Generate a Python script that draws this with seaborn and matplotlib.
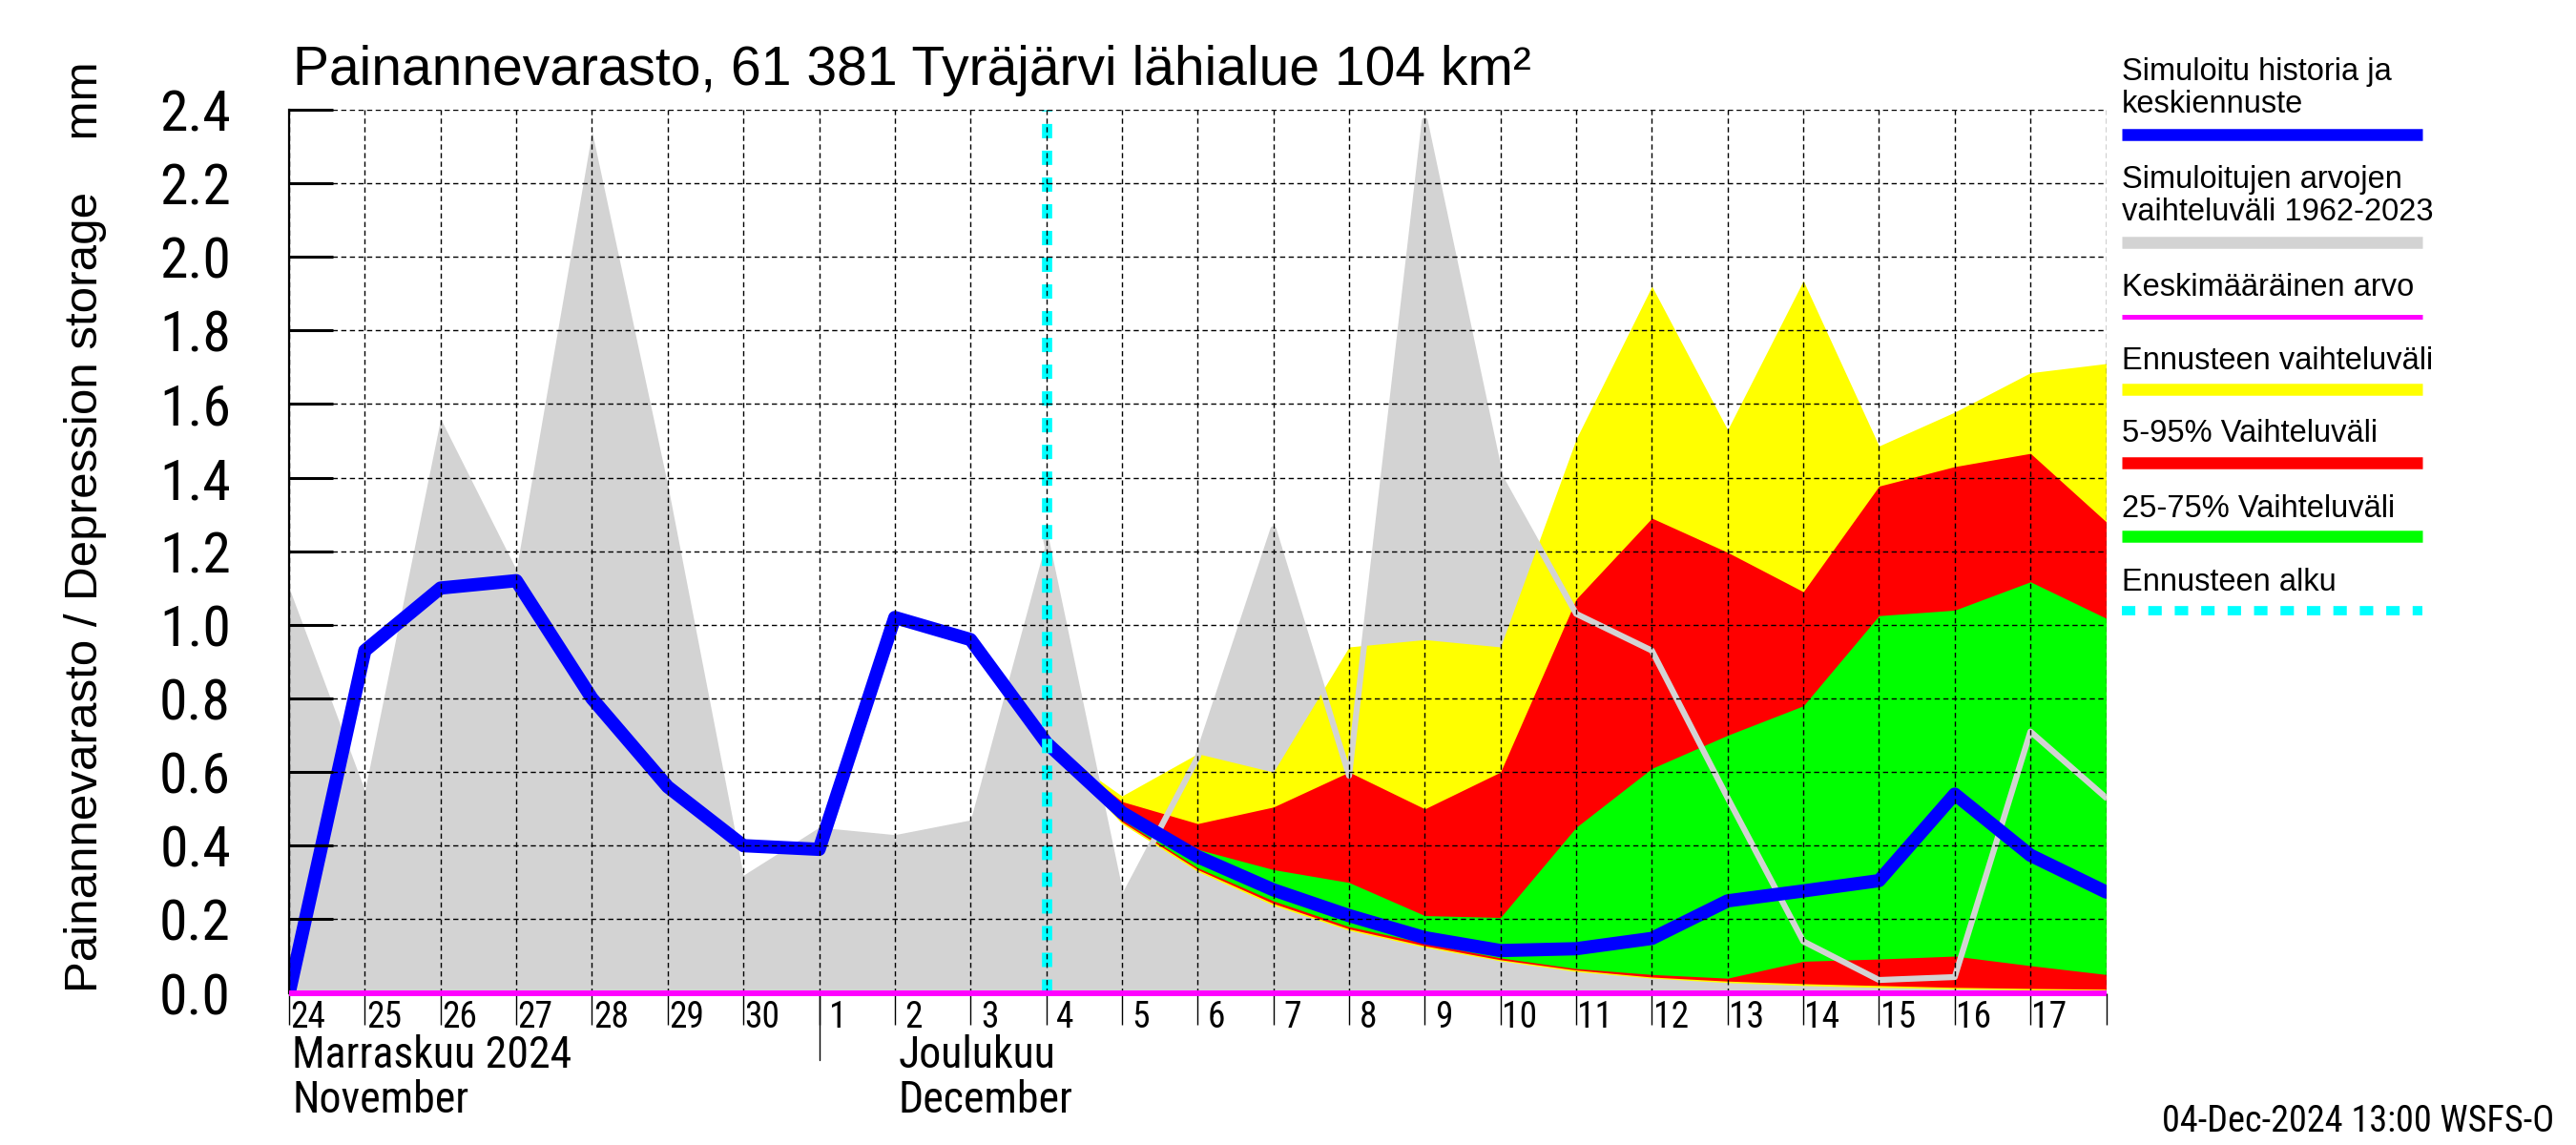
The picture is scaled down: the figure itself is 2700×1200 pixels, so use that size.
import numpy as np
import pandas as pd
import matplotlib
matplotlib.use("Agg")
import matplotlib.pyplot as plt
import matplotlib.transforms as mtrans
from matplotlib.lines import Line2D
from matplotlib import font_manager as fm
import seaborn as sns

# ---------------- data ----------------
dates = pd.date_range("2024-11-24", "2024-12-18", freq="D")
sim_max = [1.10, 0.55, 1.56, 1.15, 2.34, 1.38, 0.32, 0.45, 0.43, 0.47,
           1.23, 0.25, 0.64, 1.26, 0.59, 2.37, 1.40, 1.03, 0.93, 0.53,
           0.14, 0.035, 0.043, 0.71, 0.53]
sim_min = [0.0, 0.0, 0.0, 0.0, 0.0, 0.0, 0.0, 0.0, 0.0, 0.0,
           0.0, 0.0, 0.0, 0.0, 0.0, 0.0, 0.0, 0.0, 0.0, 0.0,
           0.0, 0.0, 0.0, 0.0, 0.0]
mean_line = [0.0, 0.93, 1.10, 1.12, 0.80, 0.56, 0.40, 0.39, 1.02, 0.96,
             0.68, 0.49, 0.37, 0.28, 0.21, 0.15, 0.115, 0.12, 0.148, 0.25,
             0.277, 0.305, 0.54, 0.374, 0.274]
mean_value = [0.0, 0.0, 0.0, 0.0, 0.0, 0.0, 0.0, 0.0, 0.0, 0.0,
              0.0, 0.0, 0.0, 0.0, 0.0, 0.0, 0.0, 0.0, 0.0, 0.0,
              0.0, 0.0, 0.0, 0.0, 0.0]

fc_dates = pd.date_range("2024-12-04", "2024-12-18", freq="D")
fc_max = [0.68, 0.535, 0.65, 0.60, 0.94, 0.96, 0.94, 1.505, 1.92, 1.53,
          1.935, 1.486, 1.578, 1.685, 1.71]
fc_p95 = [0.68, 0.52, 0.46, 0.505, 0.60, 0.50, 0.60, 1.07, 1.29, 1.197,
          1.09, 1.377, 1.43, 1.466, 1.28]
fc_p75 = [0.68, 0.50, 0.39, 0.335, 0.30, 0.21, 0.205, 0.45, 0.61, 0.70,
          0.78, 1.025, 1.04, 1.117, 1.018]
fc_p25 = [0.68, 0.47, 0.34, 0.25, 0.18, 0.135, 0.095, 0.066, 0.05, 0.04,
          0.086, 0.092, 0.10, 0.074, 0.05]
fc_p05 = [0.68, 0.465, 0.335, 0.243, 0.174, 0.128, 0.09, 0.062, 0.043, 0.032,
          0.025, 0.02, 0.015, 0.012, 0.01]
fc_min = [0.68, 0.46, 0.33, 0.238, 0.17, 0.124, 0.087, 0.058, 0.040, 0.028,
          0.02, 0.015, 0.011, 0.008, 0.005]
forecast_start = pd.Timestamp("2024-12-04")

y_ticks = [0.0, 0.2, 0.4, 0.6, 0.8, 1.0, 1.2, 1.4, 1.6, 1.8, 2.0, 2.2, 2.4]
day_labels = [str(d.day) for d in dates[:-1]]
month_names = ["Marraskuu 2024", "Joulukuu"]
month_names_en = ["November", "December"]
month_label_dates = [pd.Timestamp("2024-11-24"), pd.Timestamp("2024-12-02")]
month_boundary = pd.Timestamp("2024-12-01")

title = "Painannevarasto, 61 381 Tyräjärvi lähialue 104 km²"
ylabel = "Painannevarasto / Depression storage    mm"
footer = "04-Dec-2024 13:00 WSFS-O"

legend_texts = ["Simuloitu historia ja\nkeskiennuste",
                "Simuloitujen arvojen\nvaihteluväli 1962-2023",
                "Keskimääräinen arvo",
                "Ennusteen vaihteluväli",
                "5-95% Vaihteluväli",
                "25-75% Vaihteluväli",
                "Ennusteen alku"]

C_GREY = "#d3d3d3"
C_YEL = "#ffff00"
C_RED = "#ff0000"
C_GRN = "#00ff00"
C_BLUE = "#0000ff"
C_MAG = "#ff00ff"
C_CYAN = "#00ffff"

# ---------------- style ----------------
sns.set_theme(style="white")
names = sorted({f.name for f in fm.fontManager.ttflist})
REG = "Liberation Sans" if "Liberation Sans" in names else "DejaVu Sans"
NARROW = REG
for cand in ["Liberation Sans Narrow", "Roboto Condensed", "Open Sans Condensed",
             "DejaVu Sans Condensed", "Noto Sans Condensed"]:
    if cand in names:
        NARROW = cand
        break
else:
    for n in names:
        if "Narrow" in n or "Condensed" in n:
            NARROW = n
            break
plt.rcParams["font.family"] = [REG, "DejaVu Sans"]
for k in ["text.color", "axes.labelcolor", "xtick.color", "ytick.color"]:
    plt.rcParams[k] = "black"

fig = plt.figure(figsize=(27, 12), dpi=100)
fig.patch.set_facecolor("white")
L, R, T, B = 176 / 1568, 1282 / 1568, 1 - 67 / 700, 1 - 607 / 700
ax = fig.add_axes([L, B, R - L, T - B])
ax.set_facecolor("white")

df_hist = pd.DataFrame({"date": dates, "max": sim_max, "min": sim_min,
                        "mean": mean_line, "avg": mean_value})
df_fc = pd.DataFrame({"date": fc_dates, "mn": fc_min, "p05": fc_p05,
                      "p25": fc_p25, "p75": fc_p75, "p95": fc_p95, "mx": fc_max})

ax.fill_between(df_hist["date"], df_hist["min"], df_hist["max"],
                color=C_GREY, lw=0, zorder=1)
ax.fill_between(df_fc["date"], df_fc["mn"], df_fc["mx"], color=C_YEL, lw=0, zorder=1.1)
ax.fill_between(df_fc["date"], df_fc["p05"], df_fc["p95"], color=C_RED, lw=0, zorder=1.2)
ax.fill_between(df_fc["date"], df_fc["p25"], df_fc["p75"], color=C_GRN, lw=0, zorder=1.3)

df_gl = df_hist[df_hist["date"] >= forecast_start]
sns.lineplot(data=df_gl, x="date", y="max", ax=ax, color=C_GREY, lw=4.5,
             zorder=1.5, legend=False)
sns.lineplot(data=df_hist, x="date", y="mean", ax=ax, color=C_BLUE, lw=10,
             zorder=2.2, legend=False)
sns.lineplot(data=df_hist, x="date", y="avg", ax=ax, color=C_MAG, lw=4.3,
             zorder=3.5, legend=False)
mag = ax.lines[-1]
mag.set_clip_on(False)
mag.set_solid_capstyle("butt")
ax.axvline(forecast_start, color=C_CYAN, lw=7.7, ls=(0, (1.4, 1.22)),
           zorder=2.3, dash_capstyle="butt")

# ---------------- axes formatting ----------------
ax.set_xlim(dates[0], dates[-1])
ax.set_ylim(0, 2.4)
ax.set_xlabel("")
ax.set_ylabel("")
for s in ["top", "right", "bottom"]:
    ax.spines[s].set_visible(False)
ax.spines["left"].set_color("black")
ax.spines["left"].set_linewidth(1.6)

ax.set_yticks(y_ticks)
ax.set_yticklabels([f"{v:.1f}" for v in y_ticks], fontfamily=NARROW, fontsize=43)
ax.tick_params(axis="y", direction="in", length=33, width=2.2, color="black",
               pad=44, left=True)

label_pos = dates[:-1] + pd.Timedelta(hours=6)
ax.set_xticks(label_pos)
ax.set_xticklabels(day_labels, fontfamily=NARROW, fontsize=27)
ax.set_xticks(dates, minor=True)
ax.tick_params(axis="x", which="major", length=0, pad=5, bottom=True)
ax.tick_params(axis="x", which="minor", direction="out", length=24, width=1.0,
               color="black", bottom=True)

ax.grid(True, which="minor", axis="x", color="black", lw=1.0, ls=(0, (3.9, 2.6)))
ax.grid(True, which="major", axis="y", color="black", lw=1.0, ls=(0, (3.9, 2.6)))
ax.grid(False, which="major", axis="x")
ax.xaxis.set_zorder(2.5)
ax.yaxis.set_zorder(2.5)

ax.axvline(month_boundary, ymin=-0.076, ymax=0, color="black", lw=1.0,
           clip_on=False, zorder=3)

tr = mtrans.blended_transform_factory(ax.transData, fig.transFigure)
for name, name_en, d in zip(month_names, month_names_en, month_label_dates):
    ax.text(d + pd.Timedelta(hours=1), 1 - 653 / 700, name, transform=tr,
            fontfamily=NARROW, fontsize=33, ha="left", va="baseline")
    ax.text(d + pd.Timedelta(hours=1), 1 - 680 / 700, name_en, transform=tr,
            fontfamily=NARROW, fontsize=33, ha="left", va="baseline")

# ---------------- texts ----------------
fig.text(178 / 1568, 1 - 52 / 700, title, fontsize=41, ha="left", va="baseline")
fig.text(52 / 1568, 1 - 322 / 700, ylabel, fontsize=35.5, rotation=90,
         ha="center", va="center")
fig.text(1555 / 1568, 1 - 692 / 700, footer, fontfamily=NARROW, fontsize=27.5,
         ha="right", va="baseline")

# ---------------- legend (text above a coloured line) ----------------
lx0, lx1 = 1291.5 / 1568, 1474.5 / 1568
text_baselines = [49, 115, 181, 226, 270, 316, 361]
line_ys = [82.5, 148, 193.5, 238, 283, 328, 373.5]
line_styles = [dict(color=C_BLUE, lw=9),
               dict(color=C_GREY, lw=9),
               dict(color=C_MAG, lw=3.6),
               dict(color=C_YEL, lw=9),
               dict(color=C_RED, lw=9),
               dict(color=C_GRN, lw=9),
               dict(color=C_CYAN, lw=7, ls=(0, (1.45, 1.4)))]
for txt, bl, ly, st in zip(legend_texts, text_baselines, line_ys, line_styles):
    for i, t in enumerate(txt.split("\n")):
        fig.text(lx0, 1 - (bl + 20 * i) / 700, t, fontsize=23.5, ha="left",
                 va="baseline")
    fig.add_artist(Line2D([lx0, lx1], [1 - ly / 700, 1 - ly / 700],
                          transform=fig.transFigure, solid_capstyle="butt",
                          dash_capstyle="butt", **st))

fig.savefig("out.png", dpi=100, facecolor="white")
